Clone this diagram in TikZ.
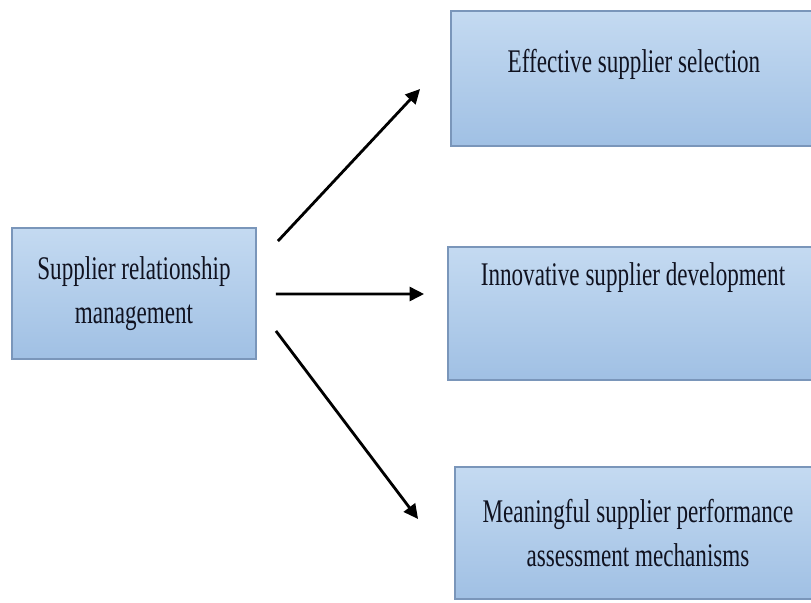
\documentclass[tikz,border=0pt]{standalone}
\usepackage{fontspec}
\newfontfamily\diagfont[FakeStretch=0.7]{Liberation Serif}
\usetikzlibrary{arrows.meta, positioning}

\definecolor{boxtop}{RGB}{196,218,241}
\definecolor{boxbottom}{RGB}{160,192,228}
\definecolor{boxline}{RGB}{122,150,186}
\definecolor{boxtext}{RGB}{16,18,32}

\begin{document}
\begin{tikzpicture}[
    % GLOBAL CFG (one unit = one pixel of the figure)
    x=0.02cm, y=-0.02cm,
    font=\diagfont\fontsize{18.8}{24.7}\selectfont,
    >={Triangle[length=2.9mm,width=2.8mm]},
    % Styles
    block/.style={% For the blue boxes
        rectangle,
        draw=boxline,
        line width=1.1pt,
        top color=boxtop,
        bottom color=boxbottom,
        text=boxtext,
        align=center,
        },
    link/.style={% For the black arrows
        ->,
        line width=1.6pt,
        }
    ]

    \clip (0,0) rectangle (811,602);

    % Source box
    \node [block, minimum width=4.88cm, minimum height=2.62cm] (srm) at (134,293.5)
        {Supplier relationship\\management};

    % Target boxes, named after their texts
    \node [block, minimum width=7.32cm, inner ysep=0pt,
        text height=1.22cm, text depth=1.48cm] (ess) at (634,78.5)
        {Effective supplier selection};
    \node [block, minimum width=7.4cm, inner ysep=0pt,
        text height=0.76cm, text depth=1.9cm] (isd) at (633,313.5)
        {Innovative supplier development};
    \node [block, minimum width=7.32cm, minimum height=2.64cm] (mss) at (638,533)
        {Meaningful supplier performance\\assessment mechanisms};

    % Arrows, they stop short of the boxes
    \draw [link] ([shift={(21,14)}]srm.north east) -- ([shift={(-30,10.5)}]ess.west);
    \draw [link] ([shift={(19,0.5)}]srm.east) -- ([shift={(-23,-19.5)}]isd.west);
    \draw [link] ([shift={(19,-29)}]srm.south east) -- ([shift={(-36,-14)}]mss.west);

\end{tikzpicture}
\end{document}
